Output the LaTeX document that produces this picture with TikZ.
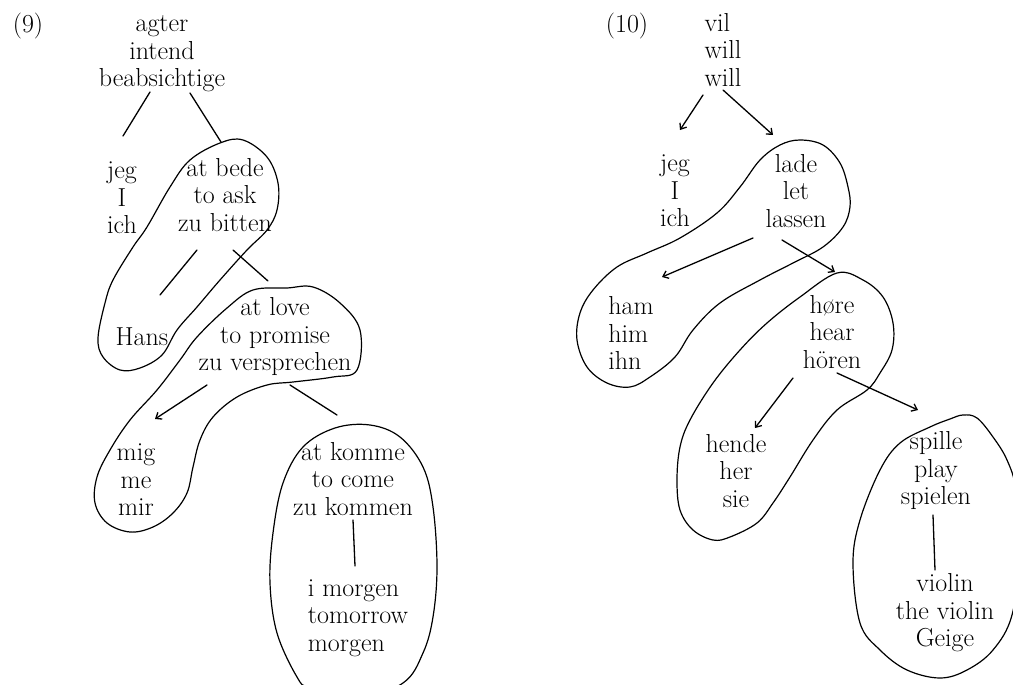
\documentclass[tikz,border=0pt]{standalone}
\usepackage{fontspec}
\usetikzlibrary{arrows.meta}
\begin{document}
\begin{tikzpicture}[x=1pt,y=-1pt,
  every node/.style={inner sep=0pt, font=\fontsize{26}{27.5}\selectfont},
  blk/.style={align=center},
  blkl/.style={align=left},
  conn/.style={line width=1.3pt, line cap=round},
  conna/.style={conn, -{Straight Barb[length=5pt,width=8pt]}},
  lasso/.style={line width=1.2pt, line join=round}]
\path[use as bounding box] (0,0) rectangle (1013,685);
\clip (0,0) rectangle (1013,685);

% ---------- (9) ----------
\node[anchor=base] (n9) at (28,33) {(9)};
\node[blk] (ltop) at (162,54) {agter\\intend\\beabsichtige};
\node[blk] (ljeg) at (122,198) {jeg\\I\\ich};
\node[blk] (lbede) at (225,195) {at bede\\to ask\\zu bitten};
\node[anchor=base] (lhans) at (142,345) {Hans};
\node[blk] (llove) at (275,337) {at love\\to promise\\zu versprechen};
\node[blk] (lmig) at (136,480) {mig\\me\\mir};
\node[blk] (lkomme) at (353,479) {at komme\\to come\\zu kommen};
\node[blkl] (lmorgen) at (358,618) {i morgen\\tomorrow\\morgen};

\draw[conn] ([shift={(-12,38)}]ltop.center) -- ([shift={(1,-62)}]ljeg.center);
\draw[conn] ([shift={(28,39)}]ltop.center) -- ([shift={(-4,-53)}]lbede.center);
\draw[conn] ([shift={(-28,55)}]lbede.center) -- ([shift={(18,-50)}]lhans.base);
\draw[conn] ([shift={(8,55)}]lbede.center) -- ([shift={(-7,-56)}]llove.center);
\draw[conna] ([shift={(-68,48)}]llove.center) -- ([shift={(19,-61)}]lmig.center);
\draw[conn] ([shift={(15,48)}]llove.center) -- ([shift={(-16,-64)}]lkomme.center);
\draw[conn] ([shift={(0,41)}]lkomme.center) -- ([shift={(-3,-52)}]lmorgen.center);

\draw[lasso] plot[smooth cycle, tension=0.6] coordinates {
 (243,140) (267,157) (278,183) (277,210) (267,230) (247,250) (220,280)
 (197,307) (177,330) (162,355) (140,368) (120,370) (103,357) (98,338)
 (105,303) (113,280) (133,247) (147,227) (170,187) (190,160) (220,143)};
\draw[lasso] plot[smooth cycle, tension=0.6] coordinates {
 (287,288) (313,287) (340,303) (360,330) (357,370) (333,377) (293,382)
 (267,385) (237,397) (213,417) (200,440) (193,467) (187,493) (173,513)
 (153,527) (130,532) (107,523) (95,503) (97,477) (110,450) (130,420)
 (157,390) (180,360) (197,337) (227,308) (253,290)};
\draw[lasso] plot[smooth cycle, tension=0.6] coordinates {
 (370,425) (400,437) (423,467) (433,507) (437,567) (433,617) (423,653)
 (403,683) (355,700) (310,688) (297,677) (277,633) (270,583) (273,533)
 (283,483) (303,447) (335,428)};

% ---------- (10) ----------
\node[anchor=base] (n10) at (627,33) {(10)};
\node[blkl] (rtop) at (723,50) {vil\\will\\will};
\node[blk] (rjeg) at (675,191) {jeg\\I\\ich};
\node[blk] (rlade) at (796,191) {lade\\let\\lassen};
\node[blkl] (rham) at (631,333) {ham\\him\\ihn};
\node[blk] (rhore) at (832,332) {høre\\hear\\hören};
\node[blk] (rhende) at (736,471) {hende\\her\\sie};
\node[blk] (rspille) at (936,471) {spille\\play\\spielen};
\node[blk] (rviolin) at (945,613) {violin\\the violin\\Geige};

\draw[conna] ([shift={(-20,45)}]rtop.center) -- ([shift={(5,-61)}]rjeg.center);
\draw[conna] ([shift={(0,40)}]rtop.center) -- ([shift={(-23,-56)}]rlade.center);
\draw[conna] ([shift={(-43,47)}]rlade.center) -- ([shift={(31,-56)}]rham.center);
\draw[conna] ([shift={(-14,49)}]rlade.center) -- ([shift={(3,-60)}]rhore.center);
\draw[conna] ([shift={(-39,46)}]rhore.center) -- ([shift={(19,-43)}]rhende.center);
\draw[conna] ([shift={(5,41)}]rhore.center) -- ([shift={(-18,-61)}]rspille.center);
\draw[conn] ([shift={(-3,44)}]rspille.center) -- ([shift={(-10,-43)}]rviolin.center);

\draw[lasso] plot[smooth cycle, tension=0.6] coordinates {
 (800,140) (823,145) (840,163) (848,187) (850,207) (843,227) (823,247)
 (793,263) (760,280) (720,303) (693,330) (675,357) (650,377) (630,387)
 (607,383) (587,367) (577,340) (580,313) (593,290) (617,267) (647,253)
 (680,238) (717,213) (740,187) (760,160) (780,145)};
\draw[lasso] plot[smooth cycle, tension=0.6] coordinates {
 (837,273) (863,280) (883,297) (893,323) (892,350) (880,373) (867,390)
 (837,410) (813,440) (790,477) (773,503) (757,523) (730,537) (713,540)
 (693,530) (680,510) (677,480) (680,447) (690,420) (713,383) (740,350)
 (767,323) (800,297)};
\draw[lasso] plot[smooth cycle, tension=0.6] coordinates {
 (963,415) (977,418) (993,437) (1007,460) (1016,490) (1020,550) (1012,615)
 (993,650) (967,670) (940,678) (907,670) (880,650) (860,623) (853,563)
 (860,520) (880,470) (900,443) (930,427) (950,419)};
\end{tikzpicture}
\end{document}
